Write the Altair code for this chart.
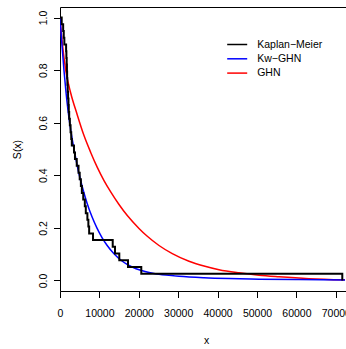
import altair as alt
import pandas as pd

# ---- data ----
series = ["Kaplan\u2212Meier", "Kw\u2212GHN", "GHN"]
colors = ["#000000", "#0000FF", "#FF0000"]

km_time = [0, 430, 800, 950, 1100, 1550, 1620, 1700, 1760, 1810, 1870, 1960, 2050,
           2150, 2230, 2330, 2500, 2680, 2850, 3000, 3550, 3800, 4250, 4700, 5000,
           5300, 5550, 5900, 6300, 6550, 6950, 7200, 7400, 8380, 13380, 13960,
           15050, 17260, 20630, 71650]
km_surv = [1.000, 0.974, 0.949, 0.923, 0.897, 0.872, 0.846, 0.821, 0.795, 0.769,
           0.744, 0.718, 0.692, 0.667, 0.641, 0.615, 0.590, 0.564, 0.538, 0.513,
           0.487, 0.462, 0.436, 0.410, 0.385, 0.359, 0.333, 0.308, 0.282, 0.256,
           0.231, 0.205, 0.179, 0.154, 0.128, 0.103, 0.077, 0.051, 0.026, 0.000]

kw_x = [0, 508, 1015, 1523, 2030, 2538, 3299, 4061, 4822, 5838, 6853, 8122, 9391,
        10660, 11929, 13706, 15482, 17513, 19289, 21574, 23858, 26904, 30203,
        36548, 42893, 50508, 60660, 72335]
kw_y = [1.0, 0.894, 0.798, 0.716, 0.648, 0.590, 0.520, 0.460, 0.406, 0.346, 0.295,
        0.242, 0.199, 0.163, 0.134, 0.1015, 0.077, 0.057, 0.0448, 0.0342, 0.0268,
        0.0204, 0.0157, 0.0103, 0.0072, 0.0050, 0.0033, 0.0021]

ghn_x = [0, 584, 1447, 2716, 4315, 6091, 7792, 9467, 11168, 12868, 14975, 17081,
         20051, 22157, 25127, 28503, 32741, 36548, 40355, 45431, 50508, 55584,
         63198, 72335]
ghn_y = [1.0, 0.903, 0.800, 0.713, 0.633, 0.551, 0.487, 0.430, 0.380, 0.337, 0.289,
         0.247, 0.198, 0.168, 0.133, 0.102, 0.073, 0.055, 0.041, 0.029, 0.020,
         0.014, 0.0068, 0.0023]

x_ticks = [0, 10000, 20000, 30000, 40000, 50000, 60000, 70000]
y_ticks = [0.0, 0.2, 0.4, 0.6, 0.8, 1.0]

km = pd.DataFrame({"x": km_time, "y": km_surv, "series": series[0]})
kw = pd.DataFrame({"x": kw_x, "y": kw_y, "series": series[1]})
ghn = pd.DataFrame({"x": ghn_x, "y": ghn_y, "series": series[2]})

W, H = 286, 284
FONT = "Liberation Sans"
FS = 10.5

xscale = alt.Scale(domain=[0, 72590], nice=False, zero=False)
yscale = alt.Scale(domain=[-0.04, 1.04], nice=False, zero=False)

color = alt.Color(
    "series:N",
    scale=alt.Scale(domain=series, range=colors),
    legend=alt.Legend(
        orient="none", legendX=171.2, legendY=31.5, title=None,
        symbolType="M-2,0H2", symbolSize=100, symbolStrokeWidth=1.5,
        labelFont=FONT, labelFontSize=FS, labelColor="black",
        labelOffset=14, rowPadding=2.3, padding=0,
    ),
)

y_enc = alt.Y(
    "y:Q", scale=yscale,
    axis=alt.Axis(
        values=y_ticks, format=".1f", title="S(x)", grid=False,
        labelAngle=270, labelAlign="center", labelBaseline="bottom", labelPadding=5.5,
        titleAngle=270, titleX=-43, titleY=142, titleAlign="center",
        titleBaseline="middle",
    ),
)

x_bottom = alt.X(
    "x:Q", scale=xscale,
    axis=alt.Axis(
        values=x_ticks, format="d", title="x", grid=False, labelPadding=10.5,
        labelFlush=False, labelOverlap=False,
        titleX=146.2, titleY=49, titleAlign="center", titleBaseline="middle",
    ),
)
x_top = alt.X(
    "x:Q", scale=xscale,
    axis=alt.Axis(orient="top", labels=False, ticks=False, domain=True,
                  title=None, grid=False),
)
x_none = alt.X("x:Q", scale=xscale, axis=None)

km_layer = alt.Chart(km).mark_line(interpolate="step-after", strokeWidth=2, clip=True).encode(
    x=x_bottom, y=y_enc, color=color)
kw_layer = alt.Chart(kw).mark_line(interpolate="monotone", strokeWidth=1.5, clip=True).encode(
    x=x_top, y=y_enc, color=color)
ghn_layer = alt.Chart(ghn).mark_line(interpolate="monotone", strokeWidth=1.5, clip=True).encode(
    x=x_none, y=y_enc, color=color)

chart = (
    alt.layer(ghn_layer, kw_layer, km_layer)
    .resolve_axis(x="independent")
    .properties(
        width=W, height=H,
        autosize=alt.AutoSizeParams(type="none"),
        padding={"left": 60, "top": 7, "right": 0, "bottom": 58},
        background="white",
    )
    .configure_view(stroke=None)
    .configure_axis(
        domainColor="black", tickColor="black", domainWidth=1, tickWidth=1,
        tickSize=6.5, labelFont=FONT, labelFontSize=FS, labelColor="black",
        titleFont=FONT, titleFontSize=FS, titleFontWeight="normal", titleColor="black",
    )
)

chart.save("out.html", embed_options={"renderer": "svg", "actions": False})
